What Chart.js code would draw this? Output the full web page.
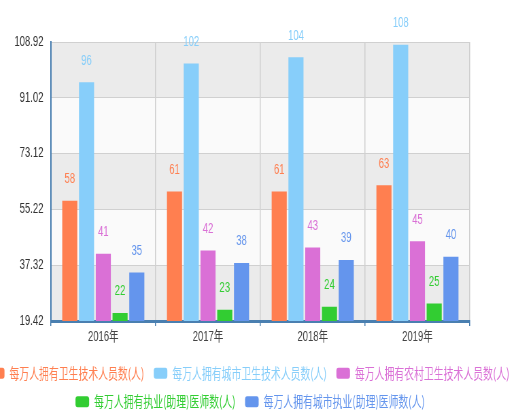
<!DOCTYPE html>
<html>
<head>
<meta charset="utf-8">
<script src="https://cdn.jsdelivr.net/npm/chart.js@4/dist/chart.umd.min.js"></script>
<style>
  html, body { margin: 0; padding: 0; overflow: hidden; background: #fff; }
  /* the original picture is squeezed sideways, so the chart is drawn wider and scaled down */
  #wrap {
    position: absolute; left: -30px; top: 0;
    width: 824px; height: 419px;
    transform: scaleX(0.68); transform-origin: 0 0;
  }
</style>
</head>
<body>
<div id="wrap"><canvas id="chart"></canvas></div>
<script>
const years = ['2016年', '2017年', '2018年', '2019年'];
const seriesNames = [
  '每万人拥有卫生技术人员数(人)',
  '每万人拥有城市卫生技术人员数(人)',
  '每万人拥有农村卫生技术人员数(人)',
  '每万人拥有执业(助理)医师数(人)',
  '每万人拥有城市执业(助理)医师数(人)'
];
const techStaff = [58, 61, 61, 63];
const urbanTechStaff = [96, 102, 104, 108];
const ruralTechStaff = [41, 42, 43, 45];
const doctors = [22, 23, 24, 25];
const urbanDoctors = [35, 38, 39, 40];
const yTicks = [19.42, 37.32, 55.22, 73.12, 91.02, 108.92];

const seriesColors = ['#ff7f50', '#87cefa', '#da70d6', '#32cd32', '#6495ed'];
const seriesValues = [techStaff, urbanTechStaff, ruralTechStaff, doctors, urbanDoctors];

// alternating grey / white bands behind the grid
const bands = {
  id: 'bands',
  beforeDraw(chart) {
    const ctx = chart.ctx;
    const area = chart.chartArea;
    const y = chart.scales.y;
    ctx.save();
    for (let i = 0; i < yTicks.length - 1; i++) {
      const top = y.getPixelForValue(yTicks[i + 1]);
      const bottom = y.getPixelForValue(yTicks[i]);
      ctx.fillStyle = i % 2 === 0 ? '#ebebeb' : '#fafafa';
      ctx.fillRect(area.left, top, area.right - area.left, bottom - top);
    }
    ctx.restore();
  }
};

// value above each bar
const valueLabels = {
  id: 'valueLabels',
  afterDatasetsDraw(chart) {
    const ctx = chart.ctx;
    ctx.save();
    ctx.font = '14px "Liberation Sans", Arial, sans-serif';
    ctx.textAlign = 'center';
    ctx.textBaseline = 'middle';
    chart.data.datasets.forEach((ds, i) => {
      chart.getDatasetMeta(i).data.forEach((bar, j) => {
        ctx.fillStyle = ds.backgroundColor;
        ctx.fillText(ds.data[j], bar.x, bar.y - 21.5);
      });
    });
    ctx.restore();
  }
};

const ctx = document.getElementById('chart').getContext('2d');
new Chart(ctx, {
  type: 'bar',
  data: {
    labels: years,
    datasets: seriesNames.map((name, i) => ({
      label: name,
      data: seriesValues[i],
      backgroundColor: seriesColors[i],
      borderWidth: 0
    }))
  },
  options: {
    responsive: true,
    maintainAspectRatio: false,
    animation: false,
    layout: { padding: { top: 42 } },
    plugins: {
      tooltip: { enabled: false },
      legend: {
        position: 'bottom',
        labels: {
          font: { family: '"Noto Sans CJK SC"', size: 14.5 },
          boxWidth: 20,
          boxHeight: 11,
          padding: 14,
          useBorderRadius: true,
          borderRadius: 3,
          generateLabels(chart) {
            const items = Chart.defaults.plugins.legend.labels.generateLabels(chart);
            items.forEach(item => { item.fontColor = item.fillStyle; item.lineWidth = 0; });
            return items;
          }
        }
      }
    },
    scales: {
      x: {
        grid: {
          offset: true,
          color: '#cfcfcf',
          lineWidth: 1.5,
          tickColor: '#4a7fb0',
          tickLength: 5
        },
        border: { color: '#4a7fb0', width: 3 },
        ticks: {
          color: '#444',
          padding: 3,
          font: { family: '"Liberation Sans", "Noto Sans CJK SC"', size: 14 }
        },
        afterFit(scale) { scale.height = 31; }
      },
      y: {
        min: 19.42,
        max: 108.92,
        afterBuildTicks(scale) { scale.ticks = yTicks.map(v => ({ value: v })); },
        grid: { color: '#d0d0d0', lineWidth: 1, drawTicks: false },
        border: { color: '#4a7fb0', width: 2 },
        ticks: {
          color: '#333',
          padding: 11,
          font: { family: '"Liberation Sans"', size: 14 },
          callback: v => v.toFixed(2)
        },
        afterFit(scale) { scale.width = 119; }
      },
      yPad: {
        position: 'right',
        grid: { display: false },
        border: { display: false },
        ticks: { display: false },
        afterFit(scale) { scale.width = 89; }
      }
    }
  },
  plugins: [bands, valueLabels]
});
</script>
</body>
</html>
